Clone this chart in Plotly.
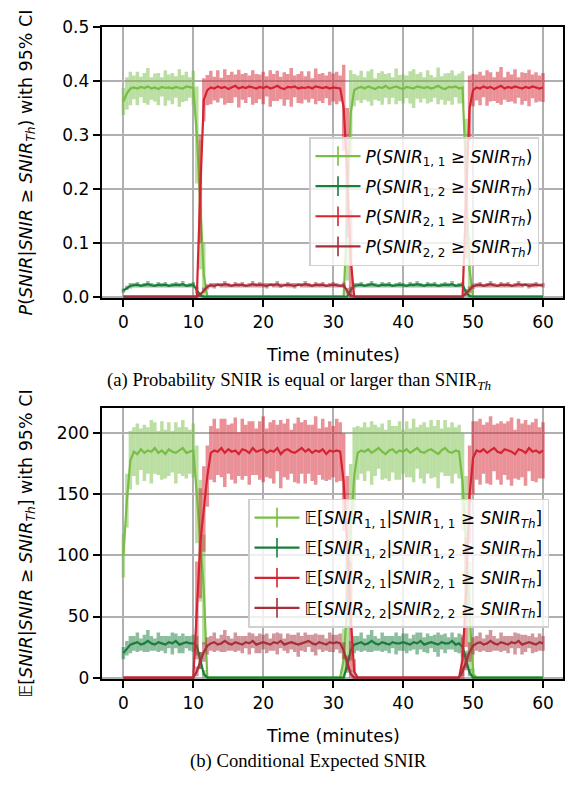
import plotly.graph_objects as go

# ---------------- data ----------------
time_min = [
    0, 0.5, 1, 1.5, 2, 2.5, 3, 3.5, 4, 4.5, 5, 5.5, 6, 6.5, 7, 7.5, 8, 8.5, 9, 9.5,
    10, 10.5, 11, 11.5, 12, 12.5, 13, 13.5, 14, 14.5, 15, 15.5, 16, 16.5, 17, 17.5, 18, 18.5, 19, 19.5,
    20, 20.5, 21, 21.5, 22, 22.5, 23, 23.5, 24, 24.5, 25, 25.5, 26, 26.5, 27, 27.5, 28, 28.5, 29, 29.5,
    30, 30.5, 31, 31.5, 32, 32.5, 33, 33.5, 34, 34.5, 35, 35.5, 36, 36.5, 37, 37.5, 38, 38.5, 39, 39.5,
    40, 40.5, 41, 41.5, 42, 42.5, 43, 43.5, 44, 44.5, 45, 45.5, 46, 46.5, 47, 47.5, 48, 48.5, 49, 49.5,
    50, 50.5, 51, 51.5, 52, 52.5, 53, 53.5, 54, 54.5, 55, 55.5, 56, 56.5, 57, 57.5, 58, 58.5, 59, 59.5,
    60]

# (a) probabilities
p11 = [.362,.377,.386,.388,.386,.389,.387,.390,.386,.388,.385,.389,.387,.388,.386,.389,.387,.386,.390,.388,
       .387,.300,.170,.040,0,0,0,0,0,0,0,0,0,0,0,0,0,0,0,0,
       0,0,0,0,0,0,0,0,0,0,0,0,0,0,0,0,0,0,0,0,
       0,0,0,0,.150,.340,.383,.387,.389,.386,.390,.388,.385,.389,.387,.391,.386,.388,.390,.387,
       .385,.389,.388,.386,.390,.388,.387,.389,.386,.388,.391,.387,.385,.389,.388,.390,.386,.388,.220,.050,
       0,0,0,0,0,0,0,0,0,0,0,0,0,0,0,0,0,0,0,0,
       0]
p11_err = [.025,.030,.031,.022,.031,.019,.028,.034,.021,.026,.030,.018,.033,.024,.029,.020,.035,.025,.027,.019,
           .032,.090,.120,.060,0,0,0,0,0,0,0,0,0,0,0,0,0,0,0,0,
           0,0,0,0,0,0,0,0,0,0,0,0,0,0,0,0,0,0,0,0,
           0,0,0,0,.120,.080,.030,.023,.030,.021,.028,.034,.020,.026,.031,.022,.029,.019,.033,.024,
           .027,.021,.030,.036,.023,.028,.020,.031,.025,.019,.034,.022,.029,.026,.032,.020,.028,.030,.110,.060,
           0,0,0,0,0,0,0,0,0,0,0,0,0,0,0,0,0,0,0,0,
           0]
p12 = [.011,.016,.020,.021,.022,.020,.021,.023,.021,.020,.022,.021,.022,.020,.021,.022,.021,.023,.020,.021,
       .022,.012,.002,0,0,0,0,0,0,0,0,0,0,0,0,0,0,0,0,0,
       0,0,0,0,0,0,0,0,0,0,0,0,0,0,0,0,0,0,0,0,
       0,0,0,0,0,.012,.020,.021,.022,.020,.021,.023,.021,.020,.022,.021,.022,.020,.021,.022,
       .021,.020,.022,.021,.023,.021,.020,.022,.021,.022,.020,.021,.022,.021,.023,.020,.021,.022,.008,.001,
       0,0,0,0,0,0,0,0,0,0,0,0,0,0,0,0,0,0,0,0,
       0]
p12_err = [.004,.004,.005,.004,.005,.003,.004,.006,.004,.003,.005,.004,.005,.003,.004,.005,.004,.006,.003,.004,
           .005,.006,.003,0,0,0,0,0,0,0,0,0,0,0,0,0,0,0,0,0,
           0,0,0,0,0,0,0,0,0,0,0,0,0,0,0,0,0,0,0,0,
           0,0,0,0,0,.006,.005,.004,.005,.003,.004,.006,.004,.003,.005,.004,.005,.003,.004,.005,
           .004,.003,.005,.004,.006,.004,.003,.005,.004,.005,.003,.004,.005,.004,.006,.003,.004,.005,.006,.002,
           0,0,0,0,0,0,0,0,0,0,0,0,0,0,0,0,0,0,0,0,
           0]
p21 = [0,0,0,0,0,0,0,0,0,0,0,0,0,0,0,0,0,0,0,0,
       0,0,.200,.365,.383,.388,.386,.390,.387,.389,.385,.388,.391,.386,.389,.387,.390,.388,.386,.389,
       .387,.390,.386,.388,.391,.387,.385,.389,.388,.390,.386,.388,.387,.389,.386,.390,.388,.387,.389,.386,
       .388,.387,.386,.350,.230,.070,0,0,0,0,0,0,0,0,0,0,0,0,0,0,
       0,0,0,0,0,0,0,0,0,0,0,0,0,0,0,0,0,0,.180,.350,
       .383,.388,.386,.390,.387,.389,.385,.388,.391,.386,.389,.387,.390,.388,.386,.389,.387,.390,.388,.386,
       .388]
p21_err = [0,0,0,0,0,0,0,0,0,0,0,0,0,0,0,0,0,0,0,0,
           0,0,.100,.040,.028,.031,.022,.030,.019,.033,.026,.029,.021,.035,.024,.028,.020,.032,.027,.023,
           .030,.019,.034,.025,.028,.021,.031,.024,.036,.020,.027,.030,.022,.029,.019,.033,.025,.028,.021,.031,
           .026,.030,.024,.080,.120,.090,0,0,0,0,0,0,0,0,0,0,0,0,0,0,
           0,0,0,0,0,0,0,0,0,0,0,0,0,0,0,0,0,0,.110,.060,
           .030,.024,.031,.020,.033,.027,.022,.029,.035,.021,.028,.025,.032,.019,.030,.026,.034,.022,.028,.024,
           .027]
p22 = [0,0,0,0,0,0,0,0,0,0,0,0,0,0,0,0,0,0,0,0,
       0,0,.004,.012,.018,.021,.020,.022,.021,.023,.021,.020,.022,.021,.022,.020,.021,.023,.021,.022,
       .021,.020,.022,.021,.023,.020,.021,.022,.021,.020,.022,.021,.023,.021,.020,.022,.021,.022,.020,.021,
       .022,.021,.020,.021,.010,.002,0,0,0,0,0,0,0,0,0,0,0,0,0,0,
       0,0,0,0,0,0,0,0,0,0,0,0,0,0,0,0,0,0,.006,.013,
       .019,.021,.022,.020,.021,.023,.021,.020,.022,.021,.022,.020,.021,.023,.021,.022,.020,.021,.022,.021,
       .021]
p22_err = [0,0,0,0,0,0,0,0,0,0,0,0,0,0,0,0,0,0,0,0,
           0,0,.004,.005,.005,.004,.005,.003,.004,.006,.004,.003,.005,.004,.005,.003,.004,.006,.004,.005,
           .004,.005,.003,.004,.006,.004,.003,.005,.004,.005,.003,.004,.006,.004,.003,.005,.004,.005,.003,.004,
           .005,.004,.003,.005,.006,.003,0,0,0,0,0,0,0,0,0,0,0,0,0,0,
           0,0,0,0,0,0,0,0,0,0,0,0,0,0,0,0,0,0,.005,.006,
           .005,.004,.005,.003,.004,.006,.004,.003,.005,.004,.005,.003,.004,.006,.004,.003,.005,.004,.005,.003,
           .004]

# (b) conditional expected SNIR
e11 = [100,145,178,185,183,187,184,186,185,188,184,186,183,187,185,184,186,188,184,185,
       186,150,112,72,0,0,0,0,0,0,0,0,0,0,0,0,0,0,0,0,
       0,0,0,0,0,0,0,0,0,0,0,0,0,0,0,0,0,0,0,0,
       0,0,0,15,60,120,165,184,186,185,187,184,186,188,185,183,186,187,184,186,
       185,187,184,186,188,185,184,186,187,185,183,186,188,185,184,186,185,160,110,50,
       3,0,0,0,0,0,0,0,0,0,0,0,0,0,0,0,0,0,0,0,
       0]
e11_err = [18,22,24,20,25,17,23,19,26,21,18,24,20,22,17,25,19,23,21,18,
           22,40,50,45,0,0,0,0,0,0,0,0,0,0,0,0,0,0,0,0,
           0,0,0,0,0,0,0,0,0,0,0,0,0,0,0,0,0,0,0,0,
           0,0,0,25,50,55,40,22,19,24,18,26,21,17,23,20,25,19,22,24,
           18,23,20,26,17,22,25,19,24,21,28,18,23,20,25,19,22,40,55,45,
           5,0,0,0,0,0,0,0,0,0,0,0,0,0,0,0,0,0,0,0,
           0]
e12 = [20,24,27,28,29,27,28,30,28,27,29,28,27,29,28,30,27,28,29,28,
       28,26,14,3,0,0,0,0,0,0,0,0,0,0,0,0,0,0,0,0,
       0,0,0,0,0,0,0,0,0,0,0,0,0,0,0,0,0,0,0,0,
       0,0,0,0,10,22,27,28,29,27,28,30,28,27,29,28,27,29,28,28,
       29,28,27,29,28,30,27,28,29,28,27,29,28,28,30,27,28,25,15,4,
       0,0,0,0,0,0,0,0,0,0,0,0,0,0,0,0,0,0,0,0,
       0]
e12_err = [5,6,7,6,8,5,7,9,6,5,8,6,7,5,9,6,7,8,5,6,
           7,8,7,3,0,0,0,0,0,0,0,0,0,0,0,0,0,0,0,0,
           0,0,0,0,0,0,0,0,0,0,0,0,0,0,0,0,0,0,0,0,
           0,0,0,0,6,8,7,6,8,5,7,9,6,5,8,6,7,5,9,6,
           7,8,5,6,9,7,6,8,5,7,10,6,8,5,7,6,8,8,7,3,
           0,0,0,0,0,0,0,0,0,0,0,0,0,0,0,0,0,0,0,0,
           0]
e21 = [0,0,0,0,0,0,0,0,0,0,0,0,0,0,0,0,0,0,0,0,
       0,55,110,138,165,184,186,185,188,184,187,185,186,183,187,186,184,188,185,186,
       187,184,186,185,188,183,186,187,185,184,186,188,185,187,184,186,185,187,183,186,
       185,186,185,160,110,50,5,0,0,0,0,0,0,0,0,0,0,0,0,0,
       0,0,0,0,0,0,0,0,0,0,0,0,0,0,0,0,0,15,70,150,
       180,186,185,187,184,186,188,185,184,187,186,185,183,187,186,184,188,185,186,184,
       186]
e21_err = [0,0,0,0,0,0,0,0,0,0,0,0,0,0,0,0,0,0,0,0,
           0,40,45,35,25,22,26,19,24,28,20,23,27,18,25,21,26,22,19,24,
           27,20,23,26,19,28,22,25,18,24,27,21,26,20,23,28,19,25,22,24,
           21,26,24,40,55,45,10,0,0,0,0,0,0,0,0,0,0,0,0,0,
           0,0,0,0,0,0,0,0,0,0,0,0,0,0,0,0,0,20,45,40,
           30,24,27,20,25,28,19,23,26,21,24,28,20,25,22,27,19,24,26,21,
           23]
e22 = [0,0,0,0,0,0,0,0,0,0,0,0,0,0,0,0,0,0,0,0,
       0,5,14,21,26,28,29,27,28,30,28,27,29,28,27,29,28,30,27,28,
       29,28,27,29,28,30,27,28,29,28,27,28,29,30,28,27,29,28,27,29,
       28,29,28,22,12,3,0,0,0,0,0,0,0,0,0,0,0,0,0,0,
       0,0,0,0,0,0,0,0,0,0,0,0,0,0,0,0,0,5,13,21,
       26,28,29,27,28,30,28,27,29,28,27,29,28,30,27,28,29,28,27,29,
       28]
e22_err = [0,0,0,0,0,0,0,0,0,0,0,0,0,0,0,0,0,0,0,0,
           0,4,7,8,7,6,8,5,7,9,6,5,8,6,7,5,9,6,7,8,
           6,8,5,7,9,6,5,8,6,7,10,6,8,5,7,9,6,7,5,8,
           7,6,8,7,6,3,0,0,0,0,0,0,0,0,0,0,0,0,0,0,
           0,0,0,0,0,0,0,0,0,0,0,0,0,0,0,0,0,4,7,8,
           7,6,8,5,7,9,6,5,8,6,7,5,9,6,8,7,5,8,6,7,
           6]

for arr in (p11, p11_err, p12, p12_err, p21, p21_err, p22, p22_err,
            e11, e11_err, e12, e12_err, e21, e21_err, e22, e22_err):
    assert len(arr) == len(time_min), len(arr)

x_ticks = [0, 10, 20, 30, 40, 50, 60]
ya_ticks = [0.0, 0.1, 0.2, 0.3, 0.4, 0.5]
yb_ticks = [0, 50, 100, 150, 200]

labels_a = [
    "<i>P</i>(<i>SNIR</i><sub>1, 1</sub> ≥ <i>SNIR</i><sub><i>Th</i></sub>)",
    "<i>P</i>(<i>SNIR</i><sub>1, 2</sub> ≥ <i>SNIR</i><sub><i>Th</i></sub>)",
    "<i>P</i>(<i>SNIR</i><sub>2, 1</sub> ≥ <i>SNIR</i><sub><i>Th</i></sub>)",
    "<i>P</i>(<i>SNIR</i><sub>2, 2</sub> ≥ <i>SNIR</i><sub><i>Th</i></sub>)",
]
labels_b = [
    "𝔼[<i>SNIR</i><sub>1, 1</sub>|<i>SNIR</i><sub>1, 1</sub> ≥ <i>SNIR</i><sub><i>Th</i></sub>]",
    "𝔼[<i>SNIR</i><sub>1, 2</sub>|<i>SNIR</i><sub>1, 2</sub> ≥ <i>SNIR</i><sub><i>Th</i></sub>]",
    "𝔼[<i>SNIR</i><sub>2, 1</sub>|<i>SNIR</i><sub>2, 1</sub> ≥ <i>SNIR</i><sub><i>Th</i></sub>]",
    "𝔼[<i>SNIR</i><sub>2, 2</sub>|<i>SNIR</i><sub>2, 2</sub> ≥ <i>SNIR</i><sub><i>Th</i></sub>]",
]

# ---------------- styling ----------------
W, H = 571, 785
C_LG = (120, 190, 69)
C_DG = (26, 125, 60)
C_R = (214, 35, 49)
C_DR = (166, 47, 58)
FONT = "DejaVu Sans"
SERIF = "Liberation Serif"


def rgb(c, a=1.0):
    return f"rgba({c[0]},{c[1]},{c[2]},{a})"


def px(xp):
    return xp / W


def py(yp):
    return 1 - yp / H


X_DOM = [px(101.7), px(563.3)]
YA_DOM = [py(295.2), py(17.5)]
YB_DOM = [py(685.0), py(407.3)]

fig = go.Figure()

panel_a = [(p11, p11_err, C_LG), (p12, p12_err, C_DG), (p21, p21_err, C_R), (p22, p22_err, C_DR)]
panel_b = [(e11, e11_err, C_LG), (e12, e12_err, C_DG), (e21, e21_err, C_R), (e22, e22_err, C_DR)]

for panel, xa, ya in ((panel_a, "x", "y"), (panel_b, "x2", "y2")):
    for vals, errs, col in panel:
        fig.add_trace(go.Scatter(
            x=time_min, y=vals, mode="markers",
            marker=dict(size=1, color="rgba(0,0,0,0)"),
            error_y=dict(type="data", array=errs, visible=True, color=rgb(col, 0.5),
                         thickness=3.5, width=0),
            xaxis=xa, yaxis=ya, showlegend=False, hoverinfo="skip"))
        fig.add_trace(go.Scatter(
            x=time_min, y=vals, mode="lines", line=dict(color=rgb(col), width=2.2),
            xaxis=xa, yaxis=ya, showlegend=False))

# legend entries (line with a vertical error-bar tick)
cols = [C_LG, C_DG, C_R, C_DR]
for i, (lab, col) in enumerate(zip(labels_a, cols)):
    fig.add_trace(go.Scatter(
        x=[None], y=[None], mode="lines+markers", name=lab,
        line=dict(color=rgb(col), width=2.2),
        marker=dict(symbol="line-ns", size=14, line=dict(color=rgb(col), width=1.6)),
        legend="legend", legendgroup=f"a{i}", xaxis="x", yaxis="y"))
for i, (lab, col) in enumerate(zip(labels_b, cols)):
    fig.add_trace(go.Scatter(
        x=[None], y=[None], mode="lines+markers", name=lab,
        line=dict(color=rgb(col), width=2.2),
        marker=dict(symbol="line-ns", size=14, line=dict(color=rgb(col), width=1.6)),
        legend="legend2", legendgroup=f"b{i}", xaxis="x2", yaxis="y2"))

axis_common = dict(
    showline=True, linecolor="black", linewidth=2, mirror=True,
    ticks="outside", ticklen=7, tickwidth=2, tickcolor="black",
    showgrid=True, gridcolor="#b0b0b0", gridwidth=2, zeroline=False,
    tickfont=dict(family=FONT, size=17, color="black"),
)

legend_common = dict(
    xanchor="left", yanchor="top",
    bgcolor="rgba(255,255,255,0.8)", bordercolor="#d0d0d0", borderwidth=1.5,
    font=dict(family=FONT, size=17, color="black"),
    traceorder="grouped", tracegroupgap=5, itemwidth=45,
)

fig.update_layout(
    width=W, height=H,
    margin=dict(l=0, r=0, t=0, b=0),
    paper_bgcolor="white", plot_bgcolor="white",
    xaxis=dict(domain=X_DOM, anchor="y", range=[-3.1, 62.9], tickvals=x_ticks, **axis_common),
    yaxis=dict(domain=YA_DOM, anchor="x", range=[-0.0035, 0.5], tickvals=ya_ticks,
               tickformat=".1f", **axis_common),
    xaxis2=dict(domain=X_DOM, anchor="y2", range=[-3.1, 62.9], tickvals=x_ticks, **axis_common),
    yaxis2=dict(domain=YB_DOM, anchor="x2", range=[-1.4, 220.8], tickvals=yb_ticks, **axis_common),
    legend=dict(x=px(309), y=py(130), **legend_common),
    legend2=dict(x=px(248), y=py(500), **legend_common),
    showlegend=True,
)

ann_font = dict(family=FONT, size=17.5, color="black")
cap_font = dict(family=SERIF, size=18.7, color="black")
annotations = [
    dict(text="Time (minutes)", x=px(332.5), y=py(353), xref="paper", yref="paper",
         showarrow=False, xanchor="center", yanchor="middle", font=ann_font),
    dict(text="Time (minutes)", x=px(332.5), y=py(743), xref="paper", yref="paper",
         showarrow=False, xanchor="center", yanchor="middle", font=ann_font),
    dict(text="<i>P</i>(<i>SNIR</i>|<i>SNIR</i> ≥ <i>SNIR</i><sub><i>Th</i></sub>) with 95% CI",
         x=px(27), y=py(156), xref="paper", yref="paper", textangle=-90,
         showarrow=False, xanchor="center", yanchor="middle", font=ann_font),
    dict(text="𝔼[<i>SNIR</i>|<i>SNIR</i> ≥ <i>SNIR</i><sub><i>Th</i></sub>] with 95% CI",
         x=px(27), y=py(546), xref="paper", yref="paper", textangle=-90,
         showarrow=False, xanchor="center", yanchor="middle", font=ann_font),
    dict(text="(a) Probability SNIR is equal or larger than SNIR<sub><i>Th</i></sub>",
         x=px(105), y=py(380), xref="paper", yref="paper",
         showarrow=False, xanchor="left", yanchor="middle", font=cap_font),
    dict(text="(b) Conditional Expected SNIR",
         x=px(188), y=py(769), xref="paper", yref="paper",
         showarrow=False, xanchor="left", yanchor="middle", font=cap_font),
]
fig.update_layout(annotations=annotations)

fig.write_html("out.html", config={"displayModeBar": False},
               post_script="document.body.style.margin='0';")
